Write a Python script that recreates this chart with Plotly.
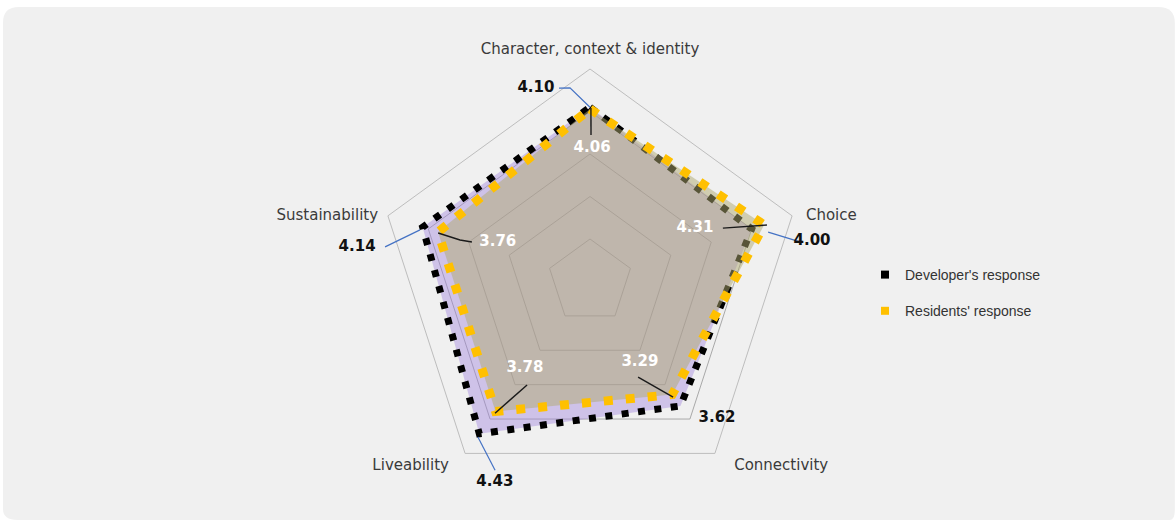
import plotly.graph_objects as go

# ---- data ----
CATEGORIES = ["Character, context & identity", "Choice", "Connectivity",
              "Liveability", "Sustainability"]
DEVELOPER = [4.10, 4.00, 3.62, 4.43, 4.14]
RESIDENTS = [4.06, 4.31, 3.29, 3.78, 3.76]
SERIES_NAMES = ["Developer's response", "Residents' response"]

# ---- geometry / styling ----
W, H = 1176, 520
CENTER_X, CENTER_Y = 590, 281.5          # pixel centre of the radar
R_MAX = 5                                # value at the outer pentagon
RADIUS = 212.5                           # pixel radius of the outer pentagon
OVERLAY_R = 238                          # pixel radius of the annotation layer
OVERLAY_MAX = R_MAX * OVERLAY_R / RADIUS

# label placement, relative to each point: (dr, dtheta)
DEV_LABEL_OFF = [(0.63, -15.6), (1.31, 7.7), (0.77, -6.9), (0.79, -10.6), (1.40, -9.6)]
RES_LABEL_OFF = [(-0.92, 0.9), (-1.54, -9.0), (-1.06, 4.2), (-1.23, 0.9), (-1.40, 5.2)]
DEV_LEADER_OFF = [
    [(0.0, 0.0), (0.48, -5.9), (0.51, -9.1)],
    [(0.35, 2.5), (1.03, 7.3)],
    [],
    [(0.08, -0.2), (0.54, -9.3)],
    [(0.04, -1.1), (0.75, -8.4)],
]
RES_LEADER_OFF = [
    [(0.02, 0.3), (-0.61, 0.4)],
    [(0.06, 0.3), (-0.94, -3.9)],
    [(0.06, 0.3), (-0.77, 9.3)],
    [(0.04, -0.2), (-0.93, -4.7)],
    [(-0.01, -0.3), (-0.55, -0.3), (-0.83, 0.5)],
]
# category label anchors relative to the outer ring: (dr, dtheta, textposition)
CAT_LABEL_POS = [(0.26, 0.0, "top center"), (0.31, 1.1, "middle right"),
                 (0.38, -3.1, "bottom right"), (0.33, 2.5, "bottom left"),
                 (0.22, -0.8, "middle left")]

FONT = "DejaVu Sans"
n = len(CATEGORIES)
theta = [360.0 / n * i for i in range(n)]


def closed(seq):
    return list(seq) + [seq[0]]


fig = go.Figure()

# developer polygon
fig.add_trace(go.Scatterpolar(
    r=closed(DEVELOPER), theta=closed(CATEGORIES), mode="lines", fill="toself",
    fillcolor="rgba(160,132,222,0.42)",
    line=dict(color="#000000", width=7, dash="7px,9.5px"),
    showlegend=False, hoverinfo="skip", subplot="polar"))

# residents polygon
fig.add_trace(go.Scatterpolar(
    r=closed(RESIDENTS), theta=closed(CATEGORIES), mode="lines", fill="toself",
    fillcolor="rgba(176,170,112,0.5)",
    line=dict(color="#FFC000", width=9, dash="9px,13px"),
    showlegend=False, hoverinfo="skip", subplot="polar"))


def add_leaders(values, offsets, color, width):
    for v, t, pts in zip(values, theta, offsets):
        if not pts:
            continue
        fig.add_trace(go.Scatterpolar(
            r=[v + dr for dr, _ in pts], theta=[t + dt for _, dt in pts],
            mode="lines", line=dict(color=color, width=width),
            showlegend=False, hoverinfo="skip", subplot="polar2"))


add_leaders(DEVELOPER, DEV_LEADER_OFF, "#4472C4", 1.2)
add_leaders(RESIDENTS, RES_LEADER_OFF, "#1a1a1a", 1.4)

# value labels
fig.add_trace(go.Scatterpolar(
    r=[v + o[0] for v, o in zip(DEVELOPER, DEV_LABEL_OFF)],
    theta=[t + o[1] for t, o in zip(theta, DEV_LABEL_OFF)],
    mode="text", text=[f"{v:.2f}" for v in DEVELOPER],
    textfont=dict(family=FONT, size=15, color="#111111", weight="bold"),
    showlegend=False, hoverinfo="skip", subplot="polar2"))
fig.add_trace(go.Scatterpolar(
    r=[v + o[0] for v, o in zip(RESIDENTS, RES_LABEL_OFF)],
    theta=[t + o[1] for t, o in zip(theta, RES_LABEL_OFF)],
    mode="text", text=[f"{v:.2f}" for v in RESIDENTS],
    textfont=dict(family=FONT, size=15, color="#ffffff", weight="bold"),
    showlegend=False, hoverinfo="skip", subplot="polar2"))

# category labels around the outer ring
fig.add_trace(go.Scatterpolar(
    r=[R_MAX + p[0] for p in CAT_LABEL_POS],
    theta=[t + p[1] for t, p in zip(theta, CAT_LABEL_POS)],
    mode="text", text=CATEGORIES, textposition=[p[2] for p in CAT_LABEL_POS],
    textfont=dict(family=FONT, size=15, color="#3a3a3a"),
    showlegend=False, hoverinfo="skip", subplot="polar2"))

# legend entries
for name, color, grp in zip(SERIES_NAMES, ["#000000", "#FFC000"], ["g1", "g2"]):
    fig.add_trace(go.Scatterpolar(
        r=[None], theta=[None], mode="markers", name=name, legendgroup=grp,
        marker=dict(symbol="square", size=8, color=color), subplot="polar"))


def domain(rad):
    return dict(x=[(CENTER_X - rad) / W, (CENTER_X + rad) / W],
                y=[(H - CENTER_Y - rad) / H, (H - CENTER_Y + rad) / H])


fig.update_layout(
    width=W, height=H,
    margin=dict(l=0, r=0, t=0, b=0),
    paper_bgcolor="#ffffff",
    polar=dict(
        domain=domain(RADIUS),
        bgcolor="rgba(0,0,0,0)",
        gridshape="linear",
        radialaxis=dict(range=[0, R_MAX], dtick=1, showticklabels=False, ticks="",
                        showline=False, gridcolor="#a9a9a9", gridwidth=1),
        angularaxis=dict(type="category", direction="clockwise", rotation=90,
                         showgrid=False, ticks="", showticklabels=False,
                         linecolor="#bdbdbd", linewidth=1),
    ),
    polar2=dict(
        domain=domain(OVERLAY_R),
        bgcolor="rgba(0,0,0,0)",
        radialaxis=dict(range=[0, OVERLAY_MAX], visible=False),
        angularaxis=dict(direction="clockwise", rotation=90, thetaunit="degrees",
                         showgrid=False, showline=False, ticks="",
                         showticklabels=False),
    ),
    legend=dict(x=865 / W, y=1 - 259 / H, xanchor="left", yanchor="top",
                bgcolor="rgba(0,0,0,0)", tracegroupgap=15,
                font=dict(family="Liberation Sans", size=14, color="#333333")),
    shapes=[dict(
        type="path", xref="paper", yref="paper", layer="below",
        path=("M 0.0026,0.9567 L 0.0026,0.02 Q 0.0026,0 0.015,0 L 0.995,0 "
              "Q 0.999,0 0.999,0.02 L 0.999,0.956 Q 0.999,0.9865 0.985,0.9865 "
              "L 0.016,0.9865 Q 0.0026,0.9865 0.0026,0.9567 Z"),
        fillcolor="#f0f0f0", line=dict(width=0))],
)

fig.write_html("out.html")
